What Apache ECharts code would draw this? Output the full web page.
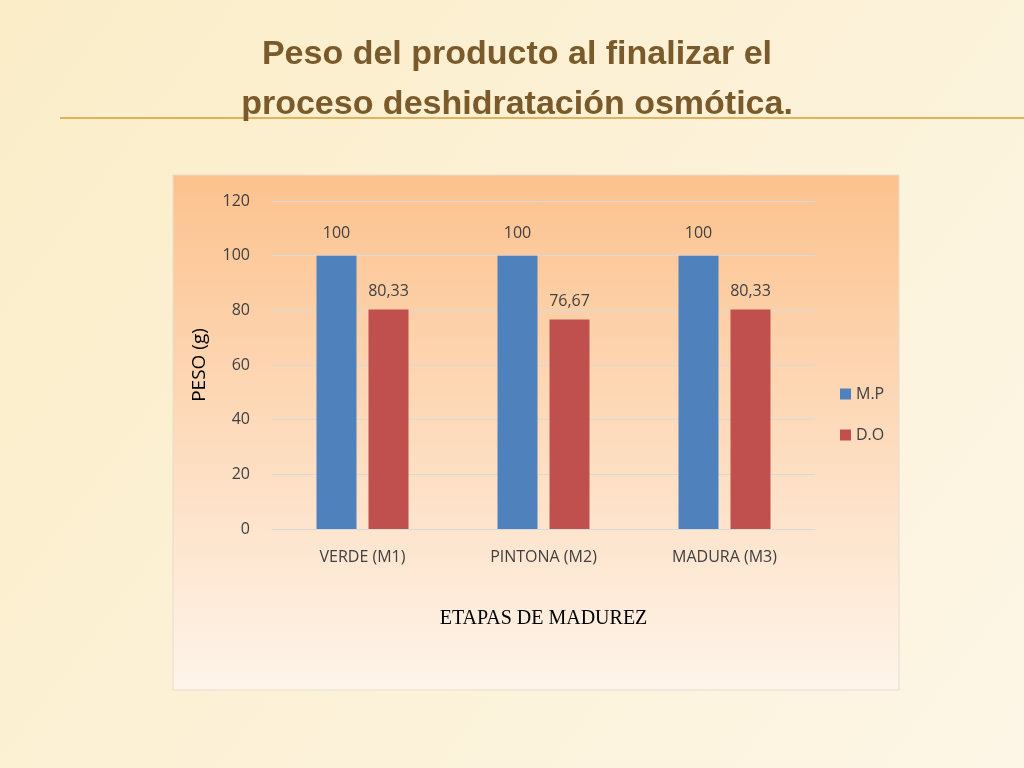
<!DOCTYPE html>
<html><head><meta charset="utf-8">
<script src="https://cdn.jsdelivr.net/npm/echarts@6/dist/echarts.min.js"></script>
<style>html,body{margin:0;padding:0;background:#fdf3dc;}#c{width:1024px;height:768px;}</style>
</head><body><div id="c"></div>
<script>
const categories = ['VERDE (M1)', 'PINTONA (M2)', 'MADURA (M3)'];
const mpValues = [100, 100, 100];
const doValues = [80.33, 76.67, 80.33];
const yTicks = { min: 0, max: 120, interval: 20 };

const chart = echarts.init(document.getElementById('c'));
const fmt = p => String(p.value).replace('.', ',');
const lblFont = '"Open Sans", sans-serif';
chart.setOption({
  backgroundColor: {type:'linear',x:0,y:0,x2:1,y2:1,colorStops:[{offset:0,color:'#fbedc8'},{offset:1,color:'#fdf6e6'}]},
  graphic: [
    {type:'line', shape:{x1:60,y1:118,x2:1024,y2:118}, style:{stroke:'#e2b25a',lineWidth:2}, z:-1},
    {type:'rect', shape:{x:173,y:175,width:726,height:515},
     style:{fill:{type:'linear',x:0,y:0,x2:0,y2:1,colorStops:[{offset:0,color:'#fcc28e'},{offset:1,color:'#fef4ea'}]},stroke:'#e8dccc',lineWidth:1}, z:-1},
    {type:'text', x:517, y:30, style:{text:'Peso del producto al finalizar el\nproceso deshidratación osmótica.',
      fill:'#7a5a2a', font:'bold 34px "Liberation Sans", Arial', align:'center', lineHeight:50}}
  ],
  grid: {left:272, right:209, top:201, bottom:239},
  legend: {orient:'vertical', left:835, top:381, itemGap:25, itemWidth:11, itemHeight:11, icon:'rect',
    textStyle:{fontSize:16, color:'#404040', fontFamily:lblFont},
    data:['M.P','D.O']},
  xAxis: {type:'category', data:categories,
    axisLine:{lineStyle:{color:'#d9d9d9'}}, axisTick:{show:false},
    axisLabel:{fontSize:16, color:'#404040', margin:20, fontFamily:lblFont},
    name:'ETAPAS DE MADUREZ', nameLocation:'middle', nameGap:80,
    nameTextStyle:{fontSize:20, color:'#000', fontFamily:'"Liberation Serif", serif'}},
  yAxis: {type:'value', min:yTicks.min, max:yTicks.max, interval:yTicks.interval,
    axisLabel:{fontSize:16, color:'#404040', margin:22, fontFamily:lblFont},
    splitLine:{lineStyle:{color:'#d9d9d9'}}, axisLine:{show:false}, axisTick:{show:false},
    name:'PESO (g)', nameLocation:'middle', nameGap:63, nameRotate:90,
    nameTextStyle:{fontSize:19, color:'#000', fontFamily:lblFont}},
  series: [
    {name:'M.P', type:'bar', data:mpValues, barWidth:40, barGap:'30%', itemStyle:{color:'#4f81bd'},
     label:{show:true, position:'top', distance:14, fontSize:16, color:'#404040', fontFamily:lblFont, formatter:fmt}},
    {name:'D.O', type:'bar', data:doValues, barWidth:40, itemStyle:{color:'#c0504d'},
     label:{show:true, position:'top', distance:10, fontSize:16, color:'#404040', fontFamily:lblFont, formatter:fmt}}
  ]
});
</script></body></html>
